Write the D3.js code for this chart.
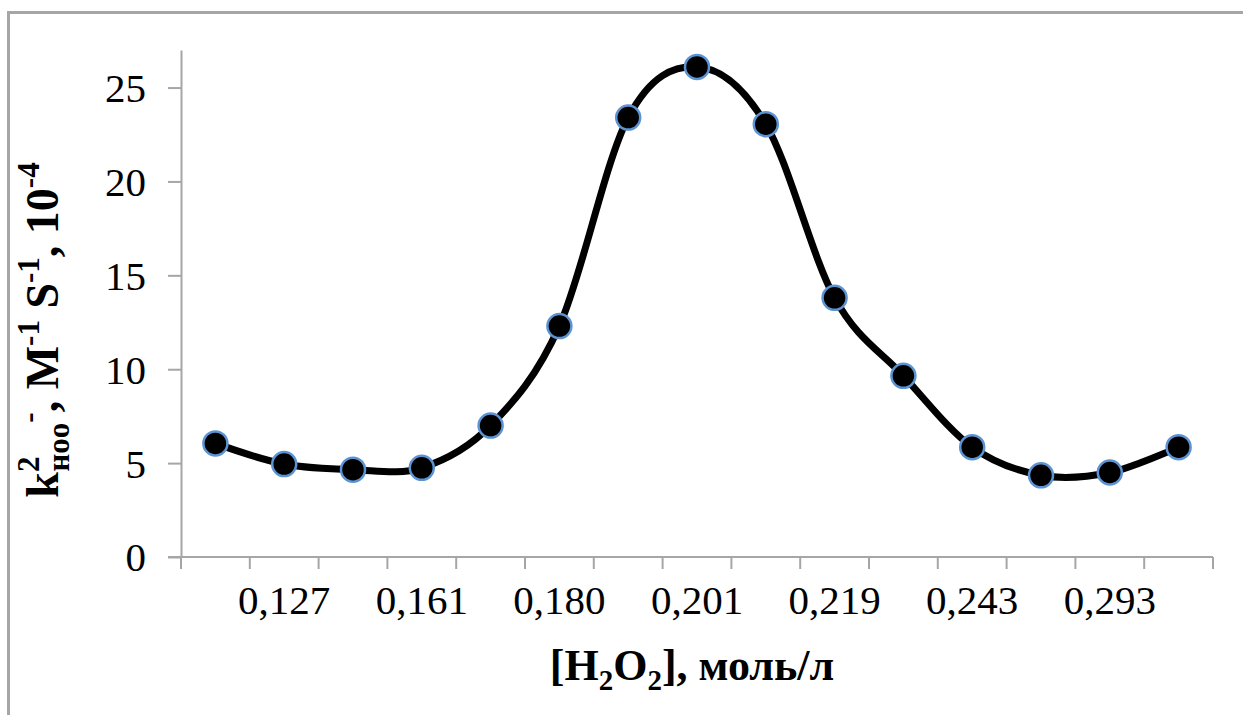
<!DOCTYPE html>
<html>
<head>
<meta charset="utf-8">
<script src="https://cdn.jsdelivr.net/npm/d3@7"></script>
<style>
  body { margin: 0; background: #fff; }
  svg { display: block; }
  text { font-family: "Liberation Serif", "Times New Roman", serif; }
</style>
</head>
<body>
<svg id="chart" width="1243" height="715"></svg>
<script>
// 15 measurements, only every second one carries a label on the axis
const categories = ["c1", "c2", "c3", "c4", "c5", "c6", "c7", "c8", "c9", "c10", "c11", "c12", "c13", "c14", "c15"];
const tickLabels = ["", "0,127", "", "0,161", "", "0,180", "", "0,201", "", "0,219", "", "0,243", "", "0,293", ""];
const values = [6.05, 4.95, 4.65, 4.75, 7.0, 12.3, 23.4, 26.1, 23.05, 13.8, 9.65, 5.85, 4.35, 4.5, 5.85];
const yTicks = [0, 5, 10, 15, 20, 25];

const data = categories.map((c, i) => ({ cat: c, label: tickLabels[i], v: values[i] }));

const svg = d3.select("#chart");
const axisColor = "#a6a6a6";

// chart frame (runs off the page on the right and bottom)
svg.append("rect")
    .attr("x", 8.5).attr("y", 12.5)
    .attr("width", 1300).attr("height", 800)
    .attr("fill", "none")
    .attr("stroke", axisColor)
    .attr("stroke-width", 3);

const margin = { left: 181, right: 1213, top: 50, bottom: 557 };

const x = d3.scaleBand()
    .domain(categories)
    .range([margin.left, margin.right])
    .padding(0);

const y = d3.scaleLinear()
    .domain([0, 27])
    .range([margin.bottom, margin.top]);

// y axis
const axisY = d3.axisLeft(y)
    .tickValues(yTicks)
    .tickSize(13)
    .tickSizeOuter(0)
    .tickPadding(22);

const gy = svg.append("g")
    .attr("transform", "translate(" + margin.left + ",0)")
    .call(axisY);
gy.select(".domain").attr("stroke", axisColor).attr("stroke-width", 2);
gy.selectAll(".tick line").attr("stroke", axisColor).attr("stroke-width", 2);
gy.selectAll(".tick text")
    .attr("font-size", "41px")
    .attr("fill", "#000")
    .attr("dy", "0.34em");

// x axis: ticks sit between categories
const gx = svg.append("g").attr("transform", "translate(0," + margin.bottom + ")");
gx.append("line")
    .attr("x1", margin.left - 13).attr("x2", margin.right)
    .attr("stroke", axisColor).attr("stroke-width", 2);

const edges = categories.map(c => x(c)).concat([x(categories[categories.length - 1]) + x.bandwidth()]);
gx.selectAll("line.tk")
    .data(edges).enter()
    .append("line")
    .attr("class", "tk")
    .attr("x1", d => d).attr("x2", d => d)
    .attr("y1", 0).attr("y2", 12)
    .attr("stroke", axisColor).attr("stroke-width", 2);

gx.selectAll("text")
    .data(data.filter(d => d.label !== "")).enter()
    .append("text")
    .attr("x", d => x(d.cat) + x.bandwidth() / 2)
    .attr("y", 57)
    .attr("text-anchor", "middle")
    .attr("font-size", "41px")
    .text(d => d.label);

// x title
const xt = svg.append("text")
    .attr("x", 692).attr("y", 680)
    .attr("text-anchor", "middle")
    .attr("font-size", "44px")
    .attr("font-weight", "bold");
xt.append("tspan").text("[H");
xt.append("tspan").attr("font-size", "29px").attr("dy", 10).text("2");
xt.append("tspan").attr("dy", -10).text("O");
xt.append("tspan").attr("font-size", "29px").attr("dy", 10).text("2");
xt.append("tspan").attr("dy", -10).text("], моль/л");

// y title
const yt = svg.append("text")
    .attr("transform", "translate(58,330) rotate(-90)")
    .attr("text-anchor", "middle")
    .attr("font-size", "46px")
    .attr("font-weight", "bold");
yt.append("tspan").text("k");
yt.append("tspan").attr("font-size", "31px").attr("dy", -19).text("2");
yt.append("tspan").attr("font-size", "31px").attr("dx", -15).attr("dy", 30).text("ноо");
yt.append("tspan").attr("font-size", "31px").attr("dy", -30).text("-");
yt.append("tspan").attr("dy", 19).text(", M");
yt.append("tspan").attr("font-size", "31px").attr("dy", -19).text("-1");
yt.append("tspan").attr("dy", 19).text(" S");
yt.append("tspan").attr("font-size", "31px").attr("dy", -19).text("-1");
yt.append("tspan").attr("dy", 19).text(", 10");
yt.append("tspan").attr("font-size", "31px").attr("dy", -19).text("-4");

// smoothed line
const line = d3.line()
    .x(d => x(d.cat) + x.bandwidth() / 2)
    .y(d => y(d.v))
    .curve(d3.curveCardinal.tension(0));

svg.append("path")
    .datum(data)
    .attr("d", line)
    .attr("fill", "none")
    .attr("stroke", "#000")
    .attr("stroke-width", 7)
    .attr("stroke-linecap", "round");

svg.append("g")
    .selectAll("circle")
    .data(data).enter()
    .append("circle")
    .attr("cx", d => x(d.cat) + x.bandwidth() / 2)
    .attr("cy", d => y(d.v))
    .attr("r", 12)
    .attr("fill", "#000")
    .attr("stroke", "#5b93d3")
    .attr("stroke-width", 2.5);
</script>
</body>
</html>
